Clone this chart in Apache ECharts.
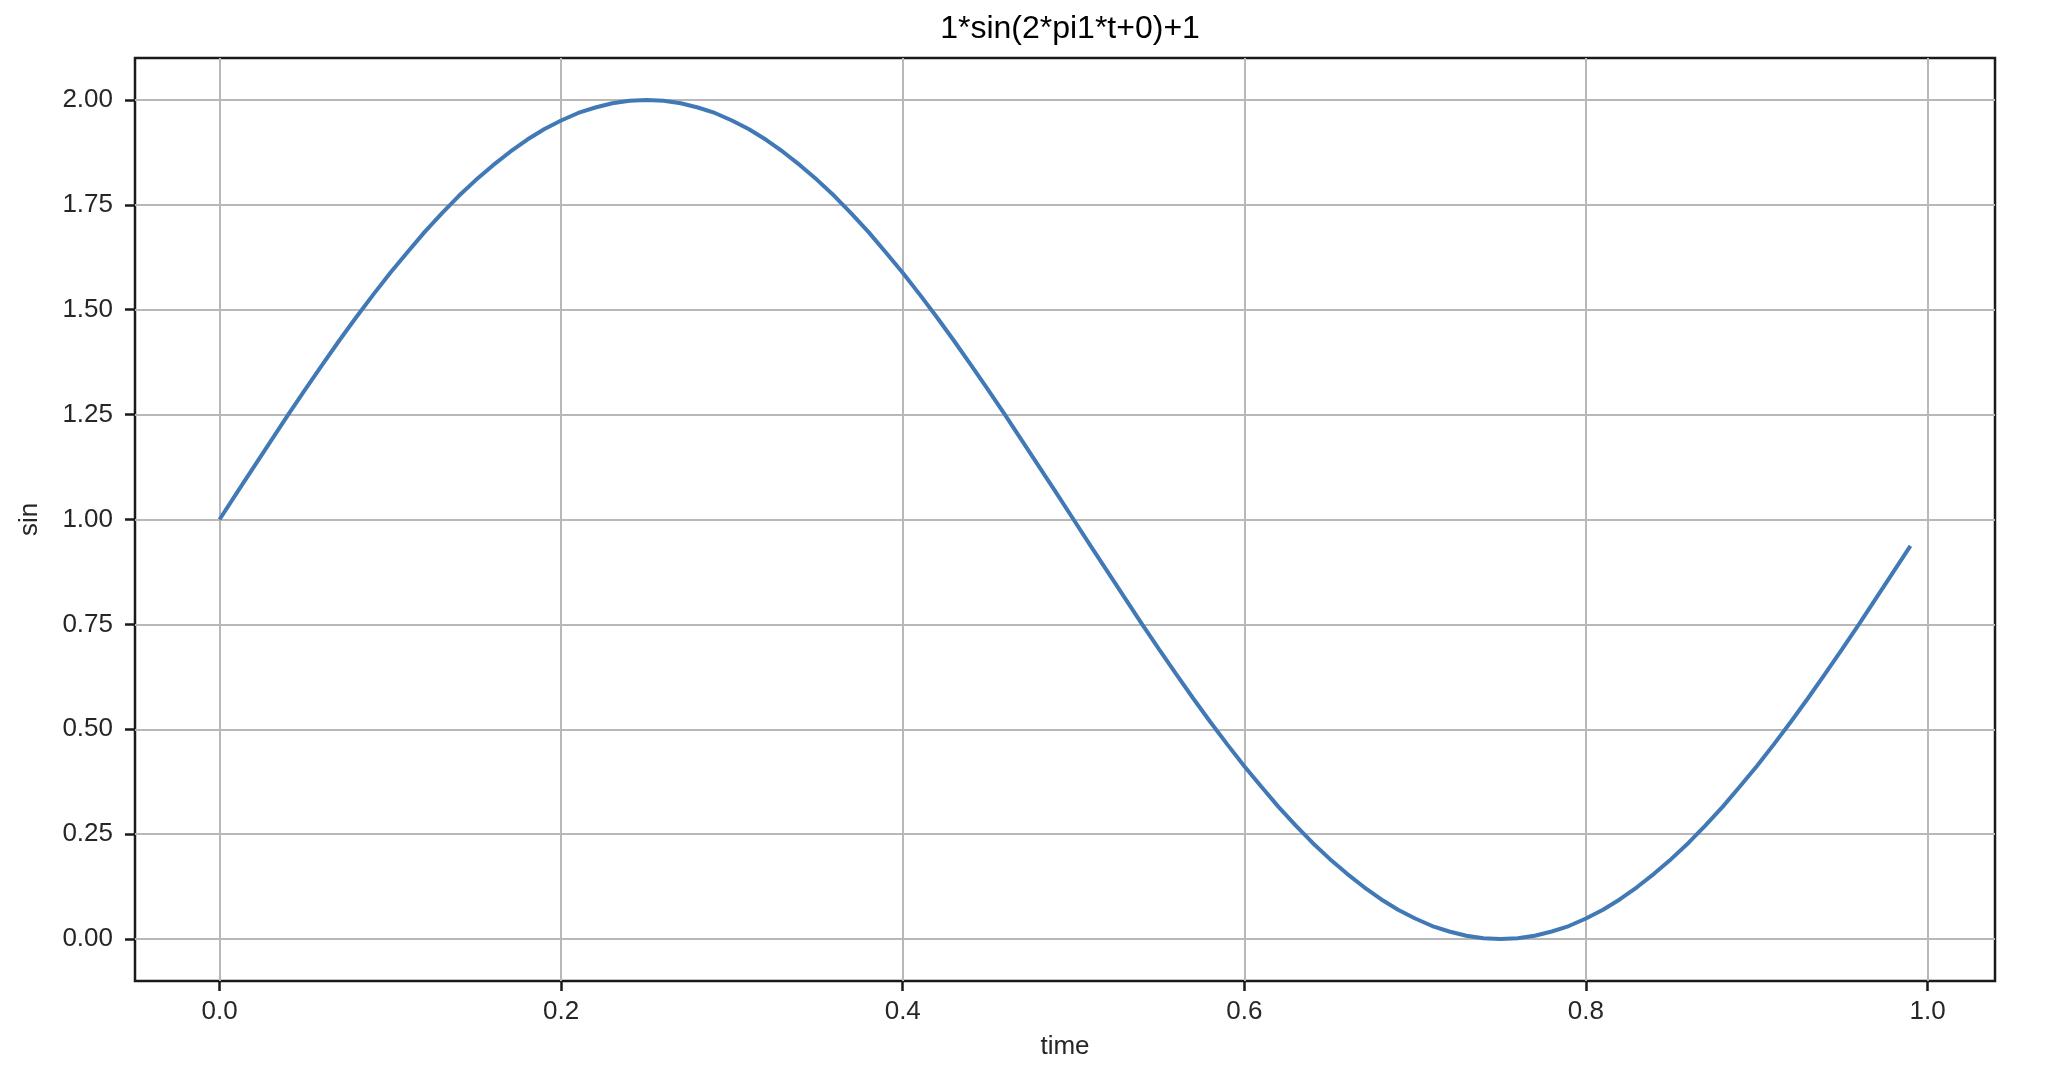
<!DOCTYPE html>
<html>
<head>
<meta charset="utf-8">
<script src="https://cdn.jsdelivr.net/npm/echarts@6/dist/echarts.min.js"></script>
<style>
html,body{margin:0;padding:0;background:#fff;}
#chart{width:2072px;height:1090px;}
</style>
</head>
<body>
<div id="chart"></div>
<script>
// time samples (x) and read-off values (y)
var timeValues = [
  0.00,0.01,0.02,0.03,0.04,0.05,0.06,0.07,0.08,0.09,
  0.10,0.11,0.12,0.13,0.14,0.15,0.16,0.17,0.18,0.19,
  0.20,0.21,0.22,0.23,0.24,0.25,0.26,0.27,0.28,0.29,
  0.30,0.31,0.32,0.33,0.34,0.35,0.36,0.37,0.38,0.39,
  0.40,0.41,0.42,0.43,0.44,0.45,0.46,0.47,0.48,0.49,
  0.50,0.51,0.52,0.53,0.54,0.55,0.56,0.57,0.58,0.59,
  0.60,0.61,0.62,0.63,0.64,0.65,0.66,0.67,0.68,0.69,
  0.70,0.71,0.72,0.73,0.74,0.75,0.76,0.77,0.78,0.79,
  0.80,0.81,0.82,0.83,0.84,0.85,0.86,0.87,0.88,0.89,
  0.90,0.91,0.92,0.93,0.94,0.95,0.96,0.97,0.98,0.99
];
var sinValues = [
  1.000,1.063,1.125,1.187,1.249,1.309,1.368,1.426,1.482,1.536,
  1.588,1.637,1.685,1.729,1.771,1.809,1.844,1.876,1.905,1.930,
  1.951,1.969,1.982,1.992,1.998,2.000,1.998,1.992,1.982,1.969,
  1.951,1.930,1.905,1.876,1.844,1.809,1.771,1.729,1.685,1.637,
  1.588,1.536,1.482,1.426,1.368,1.309,1.249,1.187,1.125,1.063,
  1.000,0.937,0.875,0.813,0.751,0.691,0.632,0.574,0.518,0.464,
  0.412,0.363,0.315,0.271,0.229,0.191,0.156,0.124,0.095,0.070,
  0.049,0.031,0.018,0.008,0.002,0.000,0.002,0.008,0.018,0.031,
  0.049,0.070,0.095,0.124,0.156,0.191,0.229,0.271,0.315,0.363,
  0.412,0.464,0.518,0.574,0.632,0.691,0.751,0.813,0.875,0.937
];
var xTicks = [0.0, 0.2, 0.4, 0.6, 0.8, 1.0];
var yTicks = [0.00, 0.25, 0.50, 0.75, 1.00, 1.25, 1.50, 1.75, 2.00];
var titleText = '1*sin(2*pi1*t+0)+1';
var xName = 'time';
var yName = 'sin';

var FONT = '"Liberation Sans", Arial, Helvetica, sans-serif';
var TXT = '#262626';
var chart = echarts.init(document.getElementById('chart'), null, {renderer: 'canvas'});
var points = timeValues.map(function (t, i) { return [t, sinValues[i]]; });

chart.setOption({
  animation: false,
  backgroundColor: '#ffffff',
  title: {
    text: titleText,
    left: 1065,
    textAlign: 'center',
    top: 8,
    textStyle: {fontFamily: FONT, fontSize: 32, fontWeight: 'normal', color: '#000'}
  },
  grid: {
    left: 135, right: 77, top: 58, bottom: 109,
    show: true, borderColor: '#1a1a1a', borderWidth: 2.5, backgroundColor: 'transparent',
    containLabel: false
  },
  xAxis: {
    type: 'value',
    min: -0.0495, max: 1.0395,
    name: xName, nameLocation: 'middle', nameGap: 53,
    nameTextStyle: {fontFamily: FONT, fontSize: 26, color: TXT},
    axisLine: {show: false, onZero: false},
    axisTick: {show: true, inside: false, length: 10, customValues: xTicks,
               lineStyle: {color: '#1a1a1a', width: 2.5}},
    axisLabel: {customValues: xTicks, margin: 18, fontFamily: FONT, fontSize: 26, color: TXT,
                formatter: function (v) { return v.toFixed(1); }},
    splitLine: {show: true, lineStyle: {color: '#b8b8b8', width: 2}}
  },
  yAxis: {
    type: 'value',
    min: -0.1, max: 2.1,
    name: yName, nameLocation: 'middle', nameGap: 92, nameRotate: 90,
    nameTextStyle: {fontFamily: FONT, fontSize: 26, color: TXT},
    axisLine: {show: false, onZero: false},
    axisTick: {show: true, inside: false, length: 10, customValues: yTicks,
               lineStyle: {color: '#1a1a1a', width: 2.5}},
    axisLabel: {customValues: yTicks, margin: 22, fontFamily: FONT, fontSize: 26, color: TXT,
                formatter: function (v) { return v.toFixed(2); }},
    splitLine: {show: true, lineStyle: {color: '#b8b8b8', width: 2}}
  },
  series: [{
    type: 'line',
    data: points,
    showSymbol: false,
    symbol: 'none',
    smooth: false,
    lineStyle: {color: '#4079b6', width: 4},
    z: 3
  }]
});
</script>
</body>
</html>
